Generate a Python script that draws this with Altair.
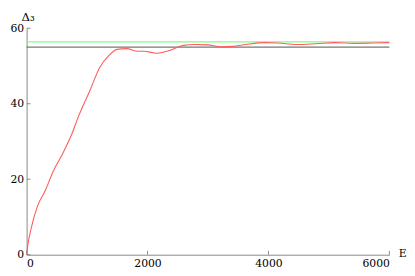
import altair as alt
import pandas as pd

# red curve
E = [0, 20, 74, 178, 311, 442, 600, 627, 758, 837, 1047, 1205, 1363, 1495, 1653,
     1837, 1942, 2100, 2152, 2364, 2574, 2784, 2995, 3205, 3416, 3627, 3943, 4153,
     4468, 4784, 5100, 5416, 5732, 6000]
D3 = [0, 2.6, 6.9, 12.8, 17.1, 22.2, 26.9, 27.8, 32.4, 35.8, 43.5, 49.5, 52.8, 54.4,
      54.6, 53.9, 53.9, 53.5, 53.4, 54.1, 55.4, 55.7, 55.6, 55.1, 55.2, 55.7, 56.2,
      56.1, 55.7, 55.9, 56.2, 56.0, 56.1, 56.2]

h_levels = [56.4, 55.0]
h_colors = ["#80ff80", "#777777"]
x_ticks = [0, 2000, 4000, 6000]
y_ticks = [0, 20, 40, 60]

W, H = 370, 231
FONT = "DejaVu Serif"

curve = pd.DataFrame({"E": E, "D": D3})
hl = pd.DataFrame({"y": h_levels, "c": h_colors, "x0": [0, 0], "x1": [6000, 6000]})
xt = pd.DataFrame({"v": x_ticks})
yt = pd.DataFrame({"v": y_ticks})

xscale = alt.Scale(domain=[0, 6000], nice=False)
yscale = alt.Scale(domain=[0, 60], nice=False)

x_axis = alt.Axis(values=x_ticks, format="d", ticks=False, grid=False,
                  domainColor="#888888",
                  labelFont=FONT, labelFontSize=11, labelColor="black",
                  labelPadding=3, title="E", titleFont=FONT, titleFontSize=11,
                  titleFontWeight="normal", titleColor="black",
                  titleX=W + 9, titleY=2, titleAlign="left",
                  titleBaseline="alphabetic")
y_axis = alt.Axis(values=y_ticks, format="d", ticks=False, grid=False,
                  domainColor="#888888",
                  labelFont=FONT, labelFontSize=11, labelColor="black",
                  labelPadding=3, title="Δ₃", titleFont=FONT, titleFontSize=12,
                  titleFontWeight="normal", titleColor="black", titleAngle=0,
                  titleX=1, titleY=-8, titleAlign="center",
                  titleBaseline="alphabetic")

red = alt.Chart(curve).mark_line(color="#ff5c5c", strokeWidth=1.1,
                                 interpolate="monotone").encode(
    x=alt.X("E:Q", scale=xscale, axis=x_axis),
    y=alt.Y("D:Q", scale=yscale, axis=y_axis))

rules = alt.Chart(hl).mark_rule(strokeWidth=1.2).encode(
    x=alt.X("x0:Q", scale=xscale, axis=x_axis), x2="x1:Q",
    y=alt.Y("y:Q", scale=yscale, axis=y_axis),
    color=alt.Color("c:N", scale=None))

yt_marks = alt.Chart(yt).mark_rule(color="#888888").encode(
    y=alt.Y("v:Q", scale=yscale, axis=y_axis), x=alt.value(0), x2=alt.value(4))
xt_marks = alt.Chart(xt).mark_rule(color="#888888").encode(
    x=alt.X("v:Q", scale=xscale, axis=x_axis), y=alt.value(H), y2=alt.value(H - 4))

chart = alt.layer(rules, red, yt_marks, xt_marks).properties(
    width=W, height=H,
    autosize=alt.AutoSizeParams(type="none"),
    padding={"left": 19, "top": 18, "right": 18, "bottom": 17},
).configure_view(stroke=None).configure_axis(domainWidth=1, labelFont=FONT, titleFont=FONT)

chart.save("out.html", embed_options={"renderer": "svg", "actions": False})
